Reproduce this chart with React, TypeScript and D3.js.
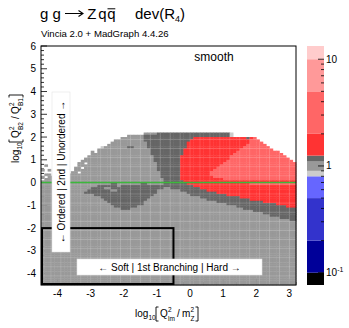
import React from 'react'
import * as d3 from 'd3'

const width = 349
const height = 328
const frame = {left: 41, right: 296, top: 46, bottom: 285}
const bar = {left: 307, right: 324}
const font = 'Liberation Sans, Arial, Helvetica, sans-serif'

const xDomain = [-4.5, 3.2]
const yDomain = [-4.5, 6]
const binSize = 0.1

const xTicks = [-4, -3, -2, -1, 0, 1, 2, 3]
const yTicks = [-4, -3, -2, -1, 0, 1, 2, 3, 4, 5, 6]

// palette contours (ratio) and the colour of each band
const zLevels = [0.1, 0.2, 0.5, 0.8, 0.9, 1.1, 1.25, 2, 5, 10]
const zColors = ['#000000', '#000099', '#3333cc', '#6666ff', '#cccccc', '#999999', '#666666', '#ff3333', '#ff6666', '#ff9999', '#ffcccc']
const zRange = [0.0767, 13.3]
const zTicks = [0.1, 1, 10]
const zMinor = [0.2, 0.3, 0.4, 0.5, 0.6, 0.7, 0.8, 0.9, 2, 3, 4, 5, 6, 7, 8, 9]

// value of each kind of cell
const kindValue: Record<string, number> = {l: 0.85, g: 1.0, d: 1.18, r: 1.6, p: 3.0}

// [yLow, yHigh, "kind x0 x1, ..."], later segments paint over earlier ones, '.' = empty
const rows: [number, number, string][] = [
  [2.1, 2.2, 'g -1.4 1.3, d -1.0 1.2, l 1.2 1.3'],
  [2.0, 2.1, 'g -1.9 1.3, d -1.4 1.2, l 1.2 1.3'],
  [1.9, 2.0, 'g -2.1 2.0, d -1.4 0.1, r 0.1 1.7, d 1.7 1.8, r 1.8 1.9, p 1.9 2.0'],
  [1.8, 1.9, 'g -2.3 2.1, d -1.4 0.0, r 0.0 1.8, p 1.8 2.1'],
  [1.7, 1.8, 'g -2.4 2.2, d -1.3 -0.1, r -0.1 1.8, p 1.8 2.2'],
  [1.6, 1.7, 'g -2.5 2.3, d -1.3 -0.1, r -0.1 1.7, p 1.7 2.3'],
  [1.5, 1.6, 'g -2.7 2.4, l -2.7 -2.6, d -1.9 -1.7, d -1.3 -0.1, r -0.1 1.6, p 1.6 2.4'],
  [1.4, 1.5, 'g -2.8 2.5, d -1.2 -0.2, r -0.2 1.5, p 1.5 2.5'],
  [1.3, 1.4, 'g -3.0 2.7, . -2.9 -2.8, d -1.2 -0.2, r -0.2 1.4, p 1.4 2.7'],
  [1.2, 1.3, 'g -3.0 2.8, d -1.2 -0.2, r -0.2 1.3, p 1.3 2.8'],
  [1.1, 1.2, 'g -3.1 2.9, d -1.1 -0.3, r -0.3 1.2, p 1.2 2.9'],
  [1.0, 1.1, 'g -3.2 3.0, d -1.1 -0.3, r -0.3 1.2, p 1.2 3.0'],
  [0.9, 1.0, 'g -3.3 3.1, d -1.1 -0.3, r -0.3 1.1, p 1.1 3.1'],
  [0.8, 0.9, 'g -3.4 3.2, . -3.2 -3.1, d -1.0 -0.3, r -0.3 1.0, p 1.0 3.2'],
  [0.7, 0.8, 'g -4.4 -4.3, g -3.4 3.2, d -1.0 -0.3, r -0.3 0.9, p 0.9 3.2'],
  [0.6, 0.7, 'g -3.5 3.2, . -3.3 -3.2, d -1.0 -0.3, r -0.3 0.8, p 0.8 3.2'],
  [0.5, 0.6, 'g -4.5 -4.4, g -4.3 -4.2, g -3.5 3.2, d -1.0 -0.3, r -0.3 0.7, p 0.7 3.2'],
  [0.4, 0.5, 'g -3.6 3.2, . -3.4 -3.3, d -0.9 -0.3, r -0.3 0.6, p 0.6 3.2'],
  [0.3, 0.4, 'g -4.4 -4.2, g -3.7 3.2, d -0.9 -0.3, r -0.3 0.6, p 0.6 3.2'],
  [0.2, 0.3, 'g -4.5 3.2, . -4.4 -4.3, . -3.9 -3.7, d -0.9 -0.3, r -0.3 0.7, p 0.7 3.2'],
  [0.1, 0.2, 'g -4.5 3.2, . -4.5 -4.4, d -0.8 -0.3, r -0.3 1.0, p 1.0 3.2'],
  [0.0, 0.1, 'g -4.5 3.2, d -0.8 -0.2, r -0.2 3.2'],
  [-0.1, 0.0, 'g -4.5 3.2, d -2.4 -2.2, d -1.5 -1.3, d -0.8 -0.1, r -0.1 1.8, p 1.8 3.2'],
  [-0.2, -0.1, 'g -4.5 3.2, d -2.8 0.1, g -2.2 -2.1, r 0.1 3.2'],
  [-0.3, -0.2, 'g -4.5 3.2, d -3.0 0.3, g -2.6 -2.4, g -0.8 -0.6, r 0.3 3.2'],
  [-0.4, -0.3, 'g -4.5 3.2, d -3.1 -1.0, g -2.4 -2.2, d -0.3 0.5, r 0.5 3.2'],
  [-0.5, -0.4, 'g -4.5 3.2, d -3.2 -1.0, d -0.1 0.8, r 0.8 3.2'],
  [-0.6, -0.5, 'g -4.5 3.2, d -2.9 -1.1, d 0.0 1.1, r 1.1 3.2'],
  [-0.7, -0.6, 'g -4.5 3.2, d -2.7 -1.2, d 0.3 1.5, r 1.5 3.2'],
  [-0.8, -0.7, 'g -4.5 3.2, d -2.6 -1.3, d 0.5 1.8, r 1.8 3.2'],
  [-0.9, -0.8, 'g -4.5 3.2, d -2.5 -1.4, d 0.8 2.2, r 2.2 3.2'],
  [-1.0, -0.9, 'g -4.5 3.2, d -2.4 -1.4, d 1.1 2.6, r 2.6 3.2'],
  [-1.1, -1.0, 'g -4.5 3.2, d -2.3 -1.6, d 1.4 2.9, r 2.9 3.2'],
  [-1.2, -1.1, 'g -4.5 3.2, d -2.1 -1.8, d 1.6 3.2'],
  [-1.3, -1.2, 'g -4.5 3.2, d 1.9 3.2'],
  [-1.4, -1.3, 'g -4.5 3.2, d 2.2 3.2'],
  [-1.5, -1.4, 'g -4.5 3.2, d 2.4 3.2'],
  [-1.6, -1.5, 'g -4.5 3.2, d 2.7 3.2'],
  [-1.7, -1.6, 'g -4.5 3.2, d 3.0 3.2'],
  [-4.5, -1.7, 'g -4.5 3.2'],
]

// the black box and the green zero line
const softBox = {x0: -4.5, x1: -0.5, y0: -4.5, y1: -2}
const zeroLine = 0

function buildCells() {
  const grid = new Map<string, string>()
  rows.forEach(([y0, y1, spec]) => {
    const j0 = Math.round((y0 - yDomain[0]) / binSize)
    const j1 = Math.round((y1 - yDomain[0]) / binSize)
    const segs = spec.split(',').map(s => s.trim().split(/\s+/))
    for (let j = j0; j < j1; j++) {
      segs.forEach(([k, a, b]) => {
        const i0 = Math.round((+a - xDomain[0]) / binSize)
        const i1 = Math.round((+b - xDomain[0]) / binSize)
        for (let i = i0; i < i1; i++) {
          const key = i + ',' + j
          if (k === '.') grid.delete(key)
          else grid.set(key, k)
        }
      })
    }
  })
  return Array.from(grid, ([key, k]) => {
    const [i, j] = key.split(',').map(Number)
    return {i, j, value: kindValue[k]}
  })
}

function Bracket({x, y0, y1, left}: {x: number, y0: number, y1: number, left: boolean}) {
  const w = left ? 2.5 : -2.5
  return <path d={`M${x + w},${y0}H${x}V${y1}H${x + w}`} fill="none" stroke="#000" strokeWidth={0.9} />
}

export default function App() {
  const x = d3.scaleLinear().domain(xDomain).range([frame.left, frame.right])
  const y = d3.scaleLinear().domain(yDomain).range([frame.bottom, frame.top])
  const z = d3.scaleLog().domain(zRange).range([frame.bottom, frame.top])
  const color = d3.scaleThreshold<number, string>().domain(zLevels).range(zColors)

  const cells = buildCells()
  const yMinor = y.ticks(50)
  const xMinor = x.ticks(40)
  const zEdges = [zRange[0], ...zLevels, zRange[1]]
  const isMajor = (t: number) => Math.abs(t - Math.round(t)) < 1e-6

  // faint seams, like the ones the downsampled cell grid leaves in the picture
  const seamX = d3.range(xDomain[0] + 0.3, xDomain[1], 0.3)
  const seamY = d3.range(yDomain[0] + 0.4, 2.2, 0.4)

  return (
    <svg width={width} height={height} style={{position: 'absolute', left: 0, top: 0}} fontFamily={font}>
      <rect width={width} height={height} fill="#fff" />

      {/* axis ticks (under the cells) */}
      {yMinor.map(t => (
        <line key={'ym' + t} x1={frame.left} x2={frame.left + (isMajor(t) ? 6 : 3)} y1={y(t)} y2={y(t)} stroke="#000" strokeWidth={0.8} />
      ))}
      {xMinor.map(t => (
        <line key={'xm' + t} y1={frame.bottom} y2={frame.bottom - (isMajor(t) ? 6 : 3)} x1={x(t)} x2={x(t)} stroke="#000" strokeWidth={0.8} />
      ))}

      {/* cells, slightly overlapped so no seams show */}
      <g>
        {cells.map(c => {
          const x0 = x(xDomain[0] + c.i * binSize)
          const x1 = x(xDomain[0] + (c.i + 1) * binSize)
          const y0 = y(yDomain[0] + (c.j + 1) * binSize)
          const y1 = y(yDomain[0] + c.j * binSize)
          return <rect key={c.i + '_' + c.j} x={x0} y={y0} width={x1 - x0 + 0.4} height={y1 - y0 + 0.4} fill={color(c.value)} />
        })}
      </g>
      <g stroke="#fff" strokeOpacity={0.2} strokeWidth={0.8}>
        {seamX.map(t => <line key={'sx' + t} x1={x(t)} x2={x(t)} y1={frame.bottom} y2={y(2.2)} />)}
        {seamY.map(t => <line key={'sy' + t} x1={frame.left} x2={frame.right} y1={y(t)} y2={y(t)} />)}
      </g>

      {/* zero line */}
      <line x1={frame.left} x2={frame.right} y1={y(zeroLine)} y2={y(zeroLine)} stroke="#3cb83c" strokeWidth={1.5} />

      {/* black box */}
      <rect x={x(softBox.x0) + 1} y={y(softBox.y1)} width={x(softBox.x1) - x(softBox.x0) - 1} height={y(softBox.y0) - y(softBox.y1) - 1} fill="none" stroke="#000" strokeWidth={2} />

      {/* frame */}
      <rect x={frame.left} y={frame.top} width={frame.right - frame.left} height={frame.bottom - frame.top} fill="none" stroke="#000" strokeWidth={1} />

      {/* tick labels */}
      {yTicks.map(t => (
        <text key={'yl' + t} x={36} y={y(t)} dy="0.35em" fontSize={10} textAnchor="end">{t}</text>
      ))}
      {xTicks.map(t => (
        <text key={'xl' + t} x={x(t)} y={297} fontSize={10} textAnchor="middle">{t}</text>
      ))}

      {/* label boxes */}
      <rect x={52} y={92} width={18} height={160} fill="#fff" stroke="#e4e4e4" strokeWidth={0.6} />
      <text transform="translate(61,172) rotate(-90)" dy="0.35em" fontSize={10} textAnchor="middle">← Ordered | 2nd | Unordered →</text>
      <rect x={77} y={259} width={185} height={16} fill="#fff" stroke="#e4e4e4" strokeWidth={0.6} />
      <text x={169.5} y={267} dy="0.35em" fontSize={10} textAnchor="middle">← Soft | 1st Branching | Hard →</text>

      <text x={214} y={61} fontSize={12} textAnchor="middle">smooth</text>

      {/* colour bar */}
      {zColors.map((col, k) => (
        <rect key={'zb' + k} x={bar.left} width={bar.right - bar.left} y={z(zEdges[k + 1])} height={z(zEdges[k]) - z(zEdges[k + 1])} fill={col} />
      ))}
      {zMinor.map(t => (
        <line key={'zm' + t} x1={bar.right - 3} x2={bar.right} y1={z(t)} y2={z(t)} stroke="#000" strokeWidth={0.8} />
      ))}
      {zTicks.map(t => (
        <line key={'zt' + t} x1={bar.right - 6} x2={bar.right} y1={z(t)} y2={z(t)} stroke="#000" strokeWidth={0.8} />
      ))}
      <text x={326} y={z(10)} dy="0.35em" fontSize={10}>10</text>
      <text x={326} y={z(1)} dy="0.35em" fontSize={10}>1</text>
      <text x={326} y={z(0.1) + 3}>
        <tspan fontSize={10}>10</tspan>
        <tspan fontSize={7} dy={-4}>-1</tspan>
      </text>

      {/* title */}
      <g fontSize={15}>
        <text x={40} y={18.5}>g g</text>
        <path d="M65,13.5H82.5M78.5,10.5L83,13.5L78.5,16.5" fill="none" stroke="#000" strokeWidth={1.1} />
        <text x={87.3} y={18.5}>Z</text>
        <text x={98.3} y={18.5}>q</text>
        <text x={107.3} y={18.5}>q</text>
        <line x1={107.5} x2={115.3} y1={8.8} y2={8.8} stroke="#000" strokeWidth={1} />
        <text x={135} y={18.5}>dev(R<tspan fontSize={9} dy={3}>4</tspan><tspan dy={-3}>)</tspan></text>
      </g>
      <text x={41} y={37.3} fontSize={9.6}>Vincia 2.0 + MadGraph 4.4.26</text>

      {/* x axis title */}
      <g fontSize={10}>
        <text x={135} y={317}>log</text>
        <text x={148.5} y={320} fontSize={6.5}>10</text>
        <Bracket x={156} y0={307} y1={321} left={true} />
        <text x={160} y={317}>Q</text>
        <text x={168} y={312} fontSize={6.5}>2</text>
        <text x={168} y={320.5} fontSize={6.5}>lm</text>
        <text x={177} y={317}>/</text>
        <text x={182} y={317}>m</text>
        <text x={190.5} y={312} fontSize={6.5}>2</text>
        <text x={190.5} y={320.5} fontSize={6.5}>Z</text>
        <Bracket x={198} y0={307} y1={321} left={false} />
      </g>

      {/* y axis title */}
      <g fontSize={10} transform="translate(19,163) rotate(-90)">
        <text x={0} y={0}>log</text>
        <text x={13.5} y={3} fontSize={6.5}>10</text>
        <Bracket x={21} y0={-10} y1={4} left={true} />
        <text x={25} y={0}>Q</text>
        <text x={33} y={-5} fontSize={6.5}>2</text>
        <text x={33} y={3.5} fontSize={6.5}>B2</text>
        <text x={44} y={0}>/</text>
        <text x={49} y={0}>Q</text>
        <text x={57} y={-5} fontSize={6.5}>2</text>
        <text x={57} y={3.5} fontSize={6.5}>B1</text>
        <Bracket x={68} y0={-10} y1={4} left={false} />
      </g>
    </svg>
  )
}
